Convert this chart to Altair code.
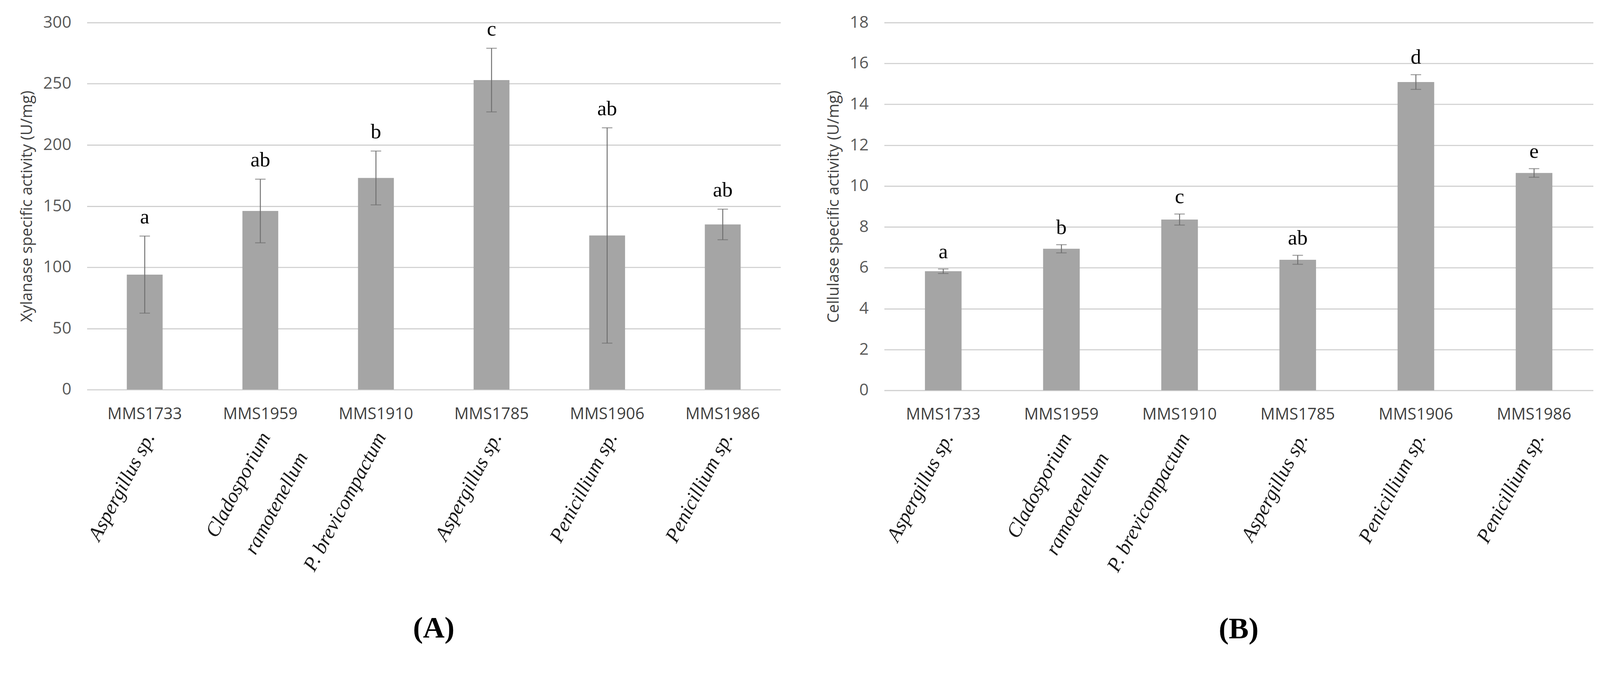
import json
import altair as alt
import pandas as pd

# ---- data ----
codes = ["MMS1733", "MMS1959", "MMS1910", "MMS1785", "MMS1906", "MMS1986"]
species_lines = [["Aspergillus sp."], ["Cladosporium", "ramotenellum"], ["P. brevicompactum"],
                 ["Aspergillus sp."], ["Penicillium sp."], ["Penicillium sp."]]

xyl_mean = [94, 146, 173, 253, 126, 135]
xyl_err = [31.5, 26, 22, 26, 88, 12.5]
xyl_group = ["a", "ab", "b", "c", "ab", "ab"]
xyl_ticks = [0, 50, 100, 150, 200, 250, 300]

cel_mean = [5.83, 6.93, 8.36, 6.39, 15.09, 10.64]
cel_err = [0.11, 0.20, 0.27, 0.22, 0.36, 0.21]
cel_group = ["a", "b", "c", "ab", "d", "e"]
cel_ticks = [0, 2, 4, 6, 8, 10, 12, 14, 16, 18]

SANS = "Open Sans"
SERIF = "Liberation Serif"
species_expr = json.dumps(species_lines) + "[indexof(" + json.dumps(codes) + ", datum.value)]"


def panel(mean, err, grp, ticks, ytitle, letter, w, h, letter_dy):
    df = pd.DataFrame({
        "code": codes,
        "mean": mean,
        "lo": [m - e for m, e in zip(mean, err)],
        "hi": [m + e for m, e in zip(mean, err)],
        "grp": grp,
    })
    xscale = alt.Scale(domain=codes, paddingInner=0.69, paddingOuter=0.345)
    yscale = alt.Scale(domain=[ticks[0], ticks[-1]], nice=False)
    yaxis = alt.Axis(
        title=ytitle, values=ticks, titleFont=SANS, titleFontSize=42,
        titleFontWeight="normal", titleColor="#404040", titlePadding=21,
        labelFont=SANS, labelFontSize=44, labelColor="#595959", labelPadding=42,
        ticks=False, tickSize=0, domain=False, grid=True, gridColor="#d0d0d0",
        gridWidth=3)
    base = alt.Chart(df)

    bars = base.mark_bar(color="#a5a5a5").encode(
        x=alt.X("code:N", scale=xscale, sort=codes, axis=alt.Axis(
            title=None, orient="bottom", labelAngle=0, labelAlign="center",
            labelBaseline="top", labelPadding=44, labelFont=SANS, labelFontSize=43,
            labelColor="#404040", labelLimit=1000, ticks=False, tickSize=0,
            domain=False, labelOverlap=False)),
        y=alt.Y("mean:Q", scale=yscale, axis=yaxis),
    )
    rules = base.mark_rule(color="#6e6e6e", strokeWidth=2.5).encode(
        x=alt.X("code:N", scale=xscale, sort=codes, axis=None),
        y=alt.Y("lo:Q", scale=yscale, axis=yaxis),
        y2="hi:Q",
    )
    cap_hi = base.mark_tick(color="#6e6e6e", size=28, thickness=2.5, orient="horizontal").encode(
        x=alt.X("code:N", scale=xscale, sort=codes, axis=None),
        y=alt.Y("hi:Q", scale=yscale, axis=yaxis),
    )
    cap_lo = base.mark_tick(color="#6e6e6e", size=28, thickness=2.5, orient="horizontal").encode(
        x=alt.X("code:N", scale=xscale, sort=codes, axis=None),
        y=alt.Y("lo:Q", scale=yscale, axis=yaxis),
    )
    letters = base.mark_text(font=SERIF, fontSize=56, color="black",
                             baseline="alphabetic", dy=letter_dy).encode(
        x=alt.X("code:N", scale=xscale, sort=codes, axis=alt.Axis(
            title=None, orient="bottom", labelExpr=species_expr, labelAngle=298,
            labelAlign="right", labelBaseline="middle", labelPadding=118,
            labelOffset=14, labelFont=SERIF, labelFontStyle="italic",
            labelFontSize=54, labelLineHeight=113, labelColor="#1a1a1a",
            labelLimit=2000, labelOverlap=False, ticks=False, tickSize=0,
            domain=False, grid=False)),
        y=alt.Y("hi:Q", scale=yscale, axis=yaxis),
        text="grp:N",
    )
    return alt.layer(bars, rules, cap_hi, cap_lo, letters).resolve_axis(x="independent").properties(
        width=w, height=h,
        title=alt.TitleParams(letter, orient="bottom", font=SERIF, fontSize=80,
                              fontWeight="bold", color="black", offset=106, anchor="middle"),
    )


left = panel(xyl_mean, xyl_err, xyl_group, xyl_ticks,
             "Xylanase specific activity (U/mg)", "(A)", 1854, 981, -34)
right = panel(cel_mean, cel_err, cel_group, cel_ticks,
              "Cellulase specific activity (U/mg)", "(B)", 1895, 983, -29)

chart = alt.hconcat(left, right, spacing=120).properties(
    padding={"left": 42, "top": -7, "right": 10, "bottom": 0},
    background="white",
).configure_view(stroke=None)

chart.save("out.html", embed_options={"renderer": "svg", "actions": False})
